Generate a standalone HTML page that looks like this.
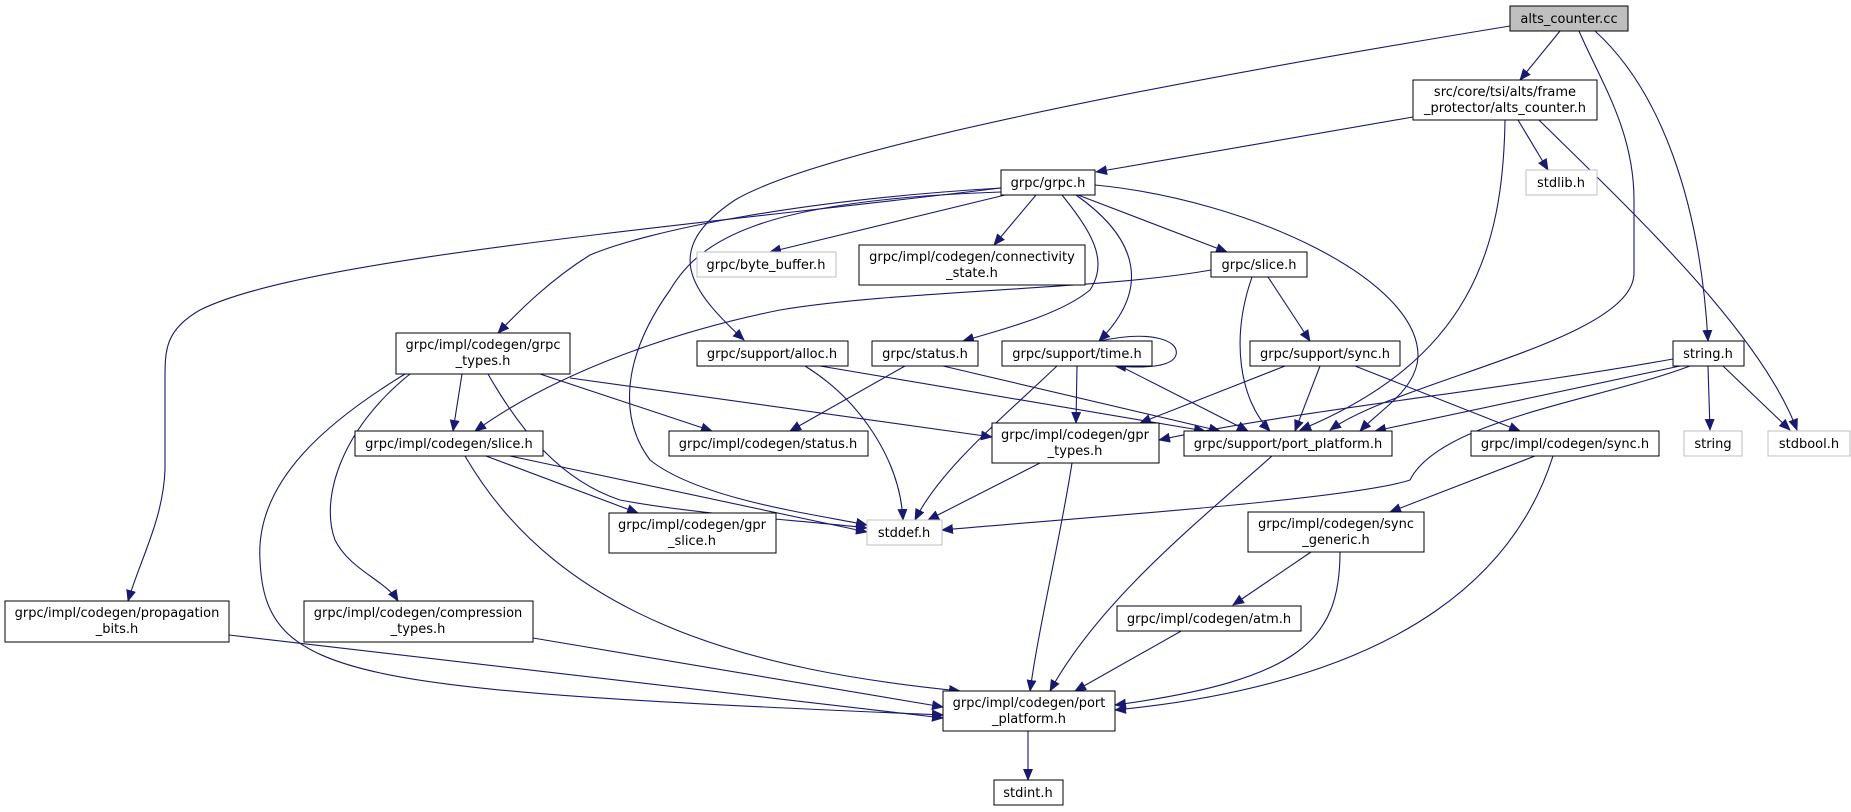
<!DOCTYPE html>
<html><head><meta charset="utf-8"><style>
html,body{margin:0;padding:0;background:#fff;}
svg{display:block;}
text{font-family:"DejaVu Sans","Liberation Sans",sans-serif;font-size:13px;fill:#000;}
.n{fill:#fff;stroke:#000;stroke-width:1;}
.g{fill:#fff;stroke:#bfbfbf;stroke-width:1;}
.e{fill:none;stroke:#191970;stroke-width:1.1;}
</style></head><body>
<svg width="1851" height="812" viewBox="0 0 1851 812" xmlns="http://www.w3.org/2000/svg">
<defs><marker id="a" markerWidth="12" markerHeight="10" refX="11" refY="5" orient="auto" markerUnits="userSpaceOnUse"><path d="M0,0 L12,5 L0,10 Z" fill="#191970"/></marker></defs>
<g class="e" marker-end="url(#a)">
<path d="M1510,26 C1150,85 820,150 735,200 C660,250 690,290 744,340"/>
<path d="M1560,31 L1520,80"/>
<path d="M1579,31 C1600,80 1634,130 1634,200 L1634,273 C1634,340 1400,380 1330,430"/>
<path d="M1595,31 C1660,90 1700,200 1708,341"/>
<path d="M1413,117 L1096,172"/>
<path d="M1518,120 L1548,170"/>
<path d="M1539,120 C1620,200 1760,330 1797,430"/>
<path d="M1505,120 C1503,250 1470,360 1300,430"/>
<path d="M1005,195 L770,252"/>
<path d="M1036,195 L994,245"/>
<path d="M1078,195 L1227,252"/>
<path d="M1062,195 C1090,230 1110,260 1090,290 C1060,315 1000,330 963,341"/>
<path d="M1076,195 C1140,240 1150,290 1099,341"/>
<path d="M1095,185 C1250,200 1420,280 1418,357 C1416,390 1380,410 1360,431"/>
<path d="M1001,188 C800,200 650,230 590,255 C550,280 520,310 498,333"/>
<path d="M1001,188 C650,230 300,260 200,310 C165,330 165,350 165,380 L165,470 C163,520 140,560 128,601"/>
<path d="M1001,192 C760,200 700,240 670,290 C620,360 620,420 650,460 C700,500 820,515 867,525"/>
<path d="M1211,270 C1100,290 900,290 780,310 C680,330 560,370 475,431"/>
<path d="M1268,277 L1310,341"/>
<path d="M1252,277 C1230,340 1240,400 1270,431"/>
<path d="M462,374 L453,431"/>
<path d="M540,374 L712,431"/>
<path d="M570,378 L992,437"/>
<path d="M488,374 C520,430 560,480 620,500 C700,515 800,520 867,528"/>
<path d="M405,374 C330,420 255,480 260,560 C265,680 350,690 943,715"/>
<path d="M410,374 C340,430 320,500 335,540 C350,570 385,580 398,601"/>
<path d="M820,366 L1205,431"/>
<path d="M805,366 C860,400 900,460 903,520"/>
<path d="M905,366 L790,431"/>
<path d="M943,366 L1220,431"/>
<path d="M1100,341 C1150,330 1180,340 1176,355 C1172,368 1140,368 1115,366"/>
<path d="M1077,366 L1076,423"/>
<path d="M1057,366 C1000,420 940,470 915,520"/>
<path d="M1120,366 L1248,431"/>
<path d="M1285,366 L1140,423"/>
<path d="M1320,366 L1295,431"/>
<path d="M1355,366 L1520,431"/>
<path d="M1673,359 C1500,390 1300,410 1159,440"/>
<path d="M1680,366 L1375,431"/>
<path d="M1690,366 C1600,400 1440,420 1410,480 C1350,500 1050,520 942,530"/>
<path d="M1708,366 L1710,430"/>
<path d="M1723,366 L1790,430"/>
<path d="M1040,463 L928,520"/>
<path d="M1072,463 C1060,540 1040,620 1030,691"/>
<path d="M1272,456 C1200,520 1100,600 1050,691"/>
<path d="M1535,456 L1390,512"/>
<path d="M1553,456 C1520,560 1420,680 1115,710"/>
<path d="M1311,552 L1233,605"/>
<path d="M1340,552 C1340,640 1300,680 1115,705"/>
<path d="M1183,630 L1075,691"/>
<path d="M486,456 L638,513"/>
<path d="M510,456 L867,532"/>
<path d="M465,456 C560,620 750,670 960,691"/>
<path d="M229,635 L943,718"/>
<path d="M533,638 L943,707"/>
<path d="M1028,731 L1028,780"/>
</g>
<g>
<rect x="1510" y="6" width="118" height="25" fill="#bfbfbf" stroke="#000"/><text x="1569" y="23" text-anchor="middle">alts_counter.cc</text>
<rect class="n" x="1413" y="80" width="184" height="40"/><text x="1505" y="96" text-anchor="middle">src/core/tsi/alts/frame</text><text x="1505" y="112" text-anchor="middle">_protector/alts_counter.h</text>
<rect class="n" x="1001" y="170" width="94" height="25"/><text x="1048" y="187" text-anchor="middle">grpc/grpc.h</text>
<rect class="g" x="1526" y="170" width="71" height="25"/><text x="1561" y="187" text-anchor="middle">stdlib.h</text>
<rect class="g" x="697" y="252" width="139" height="25"/><text x="766" y="269" text-anchor="middle">grpc/byte_buffer.h</text>
<rect class="n" x="859" y="245" width="226" height="40"/><text x="972" y="261" text-anchor="middle">grpc/impl/codegen/connectivity</text><text x="972" y="277" text-anchor="middle">_state.h</text>
<rect class="n" x="1211" y="252" width="96" height="25"/><text x="1259" y="269" text-anchor="middle">grpc/slice.h</text>
<rect class="n" x="396" y="333" width="174" height="41"/><text x="483" y="349" text-anchor="middle">grpc/impl/codegen/grpc</text><text x="483" y="365" text-anchor="middle">_types.h</text>
<rect class="n" x="697" y="341" width="151" height="25"/><text x="772" y="358" text-anchor="middle">grpc/support/alloc.h</text>
<rect class="n" x="872" y="341" width="106" height="25"/><text x="925" y="358" text-anchor="middle">grpc/status.h</text>
<rect class="n" x="1002" y="341" width="150" height="25"/><text x="1077" y="358" text-anchor="middle">grpc/support/time.h</text>
<rect class="n" x="1250" y="341" width="150" height="25"/><text x="1325" y="358" text-anchor="middle">grpc/support/sync.h</text>
<rect class="n" x="1673" y="341" width="71" height="25"/><text x="1708" y="358" text-anchor="middle">string.h</text>
<rect class="n" x="355" y="431" width="188" height="25"/><text x="449" y="448" text-anchor="middle">grpc/impl/codegen/slice.h</text>
<rect class="n" x="669" y="431" width="199" height="25"/><text x="768" y="448" text-anchor="middle">grpc/impl/codegen/status.h</text>
<rect class="n" x="992" y="423" width="167" height="40"/><text x="1075" y="439" text-anchor="middle">grpc/impl/codegen/gpr</text><text x="1075" y="455" text-anchor="middle">_types.h</text>
<rect class="n" x="1184" y="431" width="208" height="25"/><text x="1288" y="448" text-anchor="middle">grpc/support/port_platform.h</text>
<rect class="n" x="1471" y="431" width="188" height="25"/><text x="1565" y="448" text-anchor="middle">grpc/impl/codegen/sync.h</text>
<rect class="g" x="1684" y="431" width="58" height="25"/><text x="1713" y="448" text-anchor="middle">string</text>
<rect class="g" x="1768" y="431" width="82" height="25"/><text x="1809" y="448" text-anchor="middle">stdbool.h</text>
<rect class="n" x="609" y="513" width="167" height="40"/><text x="692" y="529" text-anchor="middle">grpc/impl/codegen/gpr</text><text x="692" y="545" text-anchor="middle">_slice.h</text>
<rect class="g" x="867" y="520" width="75" height="25"/><text x="904" y="537" text-anchor="middle">stddef.h</text>
<rect class="n" x="1248" y="512" width="176" height="40"/><text x="1336" y="528" text-anchor="middle">grpc/impl/codegen/sync</text><text x="1336" y="544" text-anchor="middle">_generic.h</text>
<rect class="n" x="5" y="601" width="224" height="41"/><text x="117" y="617" text-anchor="middle">grpc/impl/codegen/propagation</text><text x="117" y="633" text-anchor="middle">_bits.h</text>
<rect class="n" x="304" y="601" width="229" height="41"/><text x="418" y="617" text-anchor="middle">grpc/impl/codegen/compression</text><text x="418" y="633" text-anchor="middle">_types.h</text>
<rect class="n" x="1117" y="606" width="184" height="25"/><text x="1209" y="623" text-anchor="middle">grpc/impl/codegen/atm.h</text>
<rect class="n" x="943" y="691" width="172" height="40"/><text x="1029" y="707" text-anchor="middle">grpc/impl/codegen/port</text><text x="1029" y="723" text-anchor="middle">_platform.h</text>
<rect class="n" x="994" y="780" width="69" height="25"/><text x="1028" y="797" text-anchor="middle">stdint.h</text>
</g>
</svg>
</body></html>
